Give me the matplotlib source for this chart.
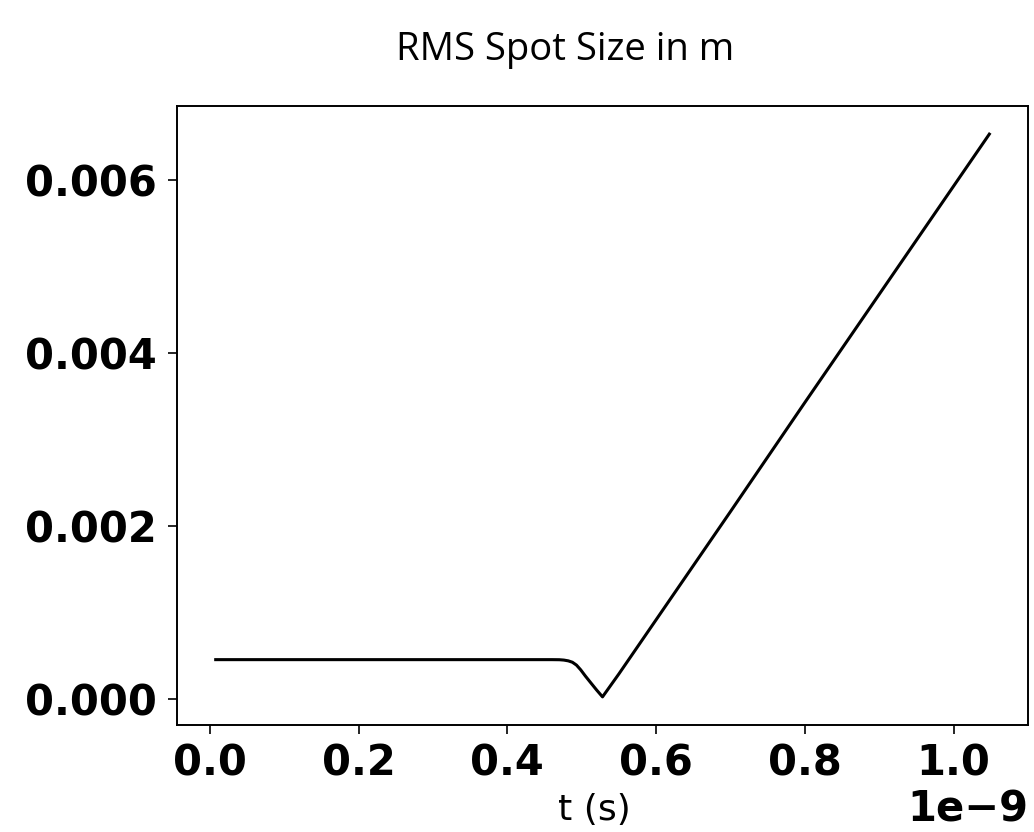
import numpy as np
import matplotlib
matplotlib.use('Agg')
import matplotlib.pyplot as plt

# time in seconds, rms spot size in m
t_ns = [0.008, 0.1, 0.2, 0.3, 0.4, 0.46, 0.47, 0.476, 0.482, 0.4875, 0.493, 0.4987,
        0.505, 0.512, 0.52, 0.528, 0.55, 0.6, 0.7, 0.8, 0.9, 1.0, 1.048]
rms = [0.00046, 0.00046, 0.00046, 0.00046, 0.00046, 0.00046, 0.000459, 0.000455,
       0.000446, 0.00043, 0.000397, 0.000342, 0.00027, 0.000195, 0.00011, 0.00003,
       0.000295, 0.00092, 0.00217, 0.00343, 0.00468, 0.00593, 0.00653]
t = np.array(t_ns) * 1e-9

fig = plt.figure(figsize=(10.34, 8.32), dpi=100)
ax = fig.add_axes([0.1712, 0.1286, 0.8230, 0.7440])

ax.plot(t, rms, color='black', linewidth=2.2)

ax.set_yticks([0.0, 0.002, 0.004, 0.006])
ax.set_xticks(np.array([0.0, 0.2, 0.4, 0.6, 0.8, 1.0]) * 1e-9)
ax.tick_params(labelsize=30, length=6.5, width=1.2)
ax.tick_params(axis='y', pad=8)
ax.tick_params(axis='x', pad=6)
for lab in ax.get_xticklabels() + ax.get_yticklabels():
    lab.set_fontweight('bold')
ax.xaxis.get_offset_text().set_fontsize(30)
ax.xaxis.get_offset_text().set_fontweight('bold')
for sp in ax.spines.values():
    sp.set_linewidth(1.4)

ax.set_xlabel('t (s)', fontsize=26)
ax.xaxis.set_label_coords(0.49, -0.11, transform=ax.transAxes)
ax.xaxis.label.set_va('top')

fig.text(0.547, 0.94, 'RMS Spot Size in m', fontsize=27.5, family='Open Sans',
         ha='center', va='center')

fig.savefig('out.png', dpi=100)
